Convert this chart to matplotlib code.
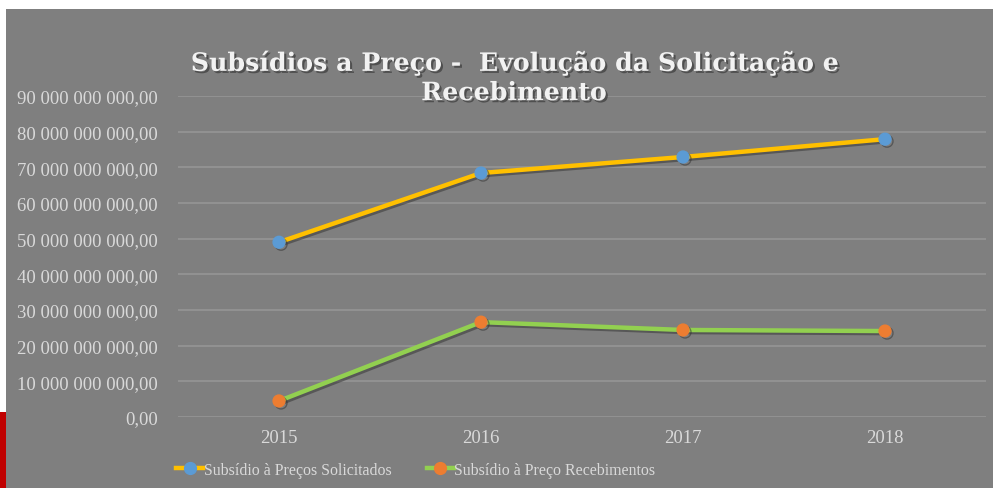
import matplotlib
matplotlib.use("Agg")
import matplotlib.pyplot as plt
import matplotlib.patheffects as pe
from matplotlib.patches import Rectangle
from matplotlib.lines import Line2D

years = ["2015", "2016", "2017", "2018"]
solicitados = [49.0e9, 68.4e9, 72.9e9, 77.9e9]
recebimentos = [4.5e9, 26.6e9, 24.4e9, 24.1e9]
series_names = ["Subsídio à Preços Solicitados", "Subsídio à Preço Recebimentos"]
yticks = [i * 10e9 for i in range(10)]

def fmt(v):
    if v == 0:
        return "0,00"
    s = f"{int(v):,}".replace(",", " ")
    return s + ",00"

W, H = 994, 489
fig = plt.figure(figsize=(W / 100, H / 100), dpi=100)
fig.patch.set_facecolor("white")
fig.patches.append(Rectangle((6 / W, 0), (993 - 6) / W, (H - 10) / H,
                             transform=fig.transFigure, facecolor="#7f7f7f",
                             edgecolor="none", zorder=-2))
fig.patches.append(Rectangle((0, 0), 6 / W, (H - 413) / H,
                             transform=fig.transFigure, facecolor="#c00000",
                             edgecolor="none", zorder=-2))

ax = fig.add_axes([178 / W, 1 - 418 / H, (986 - 178) / W, (418 - 97) / H])
ax.set_facecolor("none")
ax.set_xlim(-0.5, 3.5)
ax.set_ylim(0, 90e9)
ax.set_yticks(yticks)
ax.set_yticklabels([fmt(v) for v in yticks])
ax.set_xticks(range(len(years)))
ax.set_xticklabels(years)
for s in ax.spines.values():
    s.set_visible(False)
ax.grid(axis="y", color="#959595", linewidth=1.2)
ax.set_axisbelow(True)
ax.tick_params(length=0, colors="#d9d9d9", labelsize=13.5, pad=14.4)
ax.tick_params(axis="x", pad=9)
for lab in ax.get_yticklabels() + ax.get_xticklabels():
    lab.set_family("Liberation Serif")
    lab.set_color("#d9d9d9")

shadow = [pe.SimpleLineShadow(offset=(1.5, -1.5), shadow_color="#303030", alpha=0.5), pe.Normal()]
x = list(range(len(years)))
ax.plot(x, solicitados, color="#ffc000", lw=3.2, marker="o", ms=8.5,
        mfc="#5b9bd5", mec="#5b9bd5", path_effects=shadow, zorder=3)
ax.plot(x, recebimentos, color="#92d050", lw=3.2, marker="o", ms=8.5,
        mfc="#ed7d31", mec="#ed7d31", path_effects=shadow, zorder=3)

fig.text(514 / W, 1 - 79 / H, "Subsídios a Preço -  Evolução da Solicitação e\nRecebimento",
         ha="center", va="center", fontsize=18.2, fontweight="bold",
         family="DejaVu Serif", color="#f2f2f2", linespacing=1.28,
         path_effects=[pe.withSimplePatchShadow(offset=(1.5, -1.5), shadow_rgbFace="#303030", alpha=0.6)])

handles = [
    Line2D([0], [0], color="#ffc000", lw=3.2, marker="o", ms=8.5, mfc="#5b9bd5", mec="#5b9bd5"),
    Line2D([0], [0], color="#92d050", lw=3.2, marker="o", ms=8.5, mfc="#ed7d31", mec="#ed7d31"),
]
leg = fig.legend(handles, series_names, loc="center", bbox_to_anchor=(416 / W, 1 - 471 / H),
                 ncol=2, frameon=False, handlelength=1.7, handletextpad=0.05,
                 columnspacing=2.2, prop={"family": "Liberation Serif", "size": 11.4})
for t in leg.get_texts():
    t.set_color("#d9d9d9")

fig.savefig("out.png", dpi=100)
